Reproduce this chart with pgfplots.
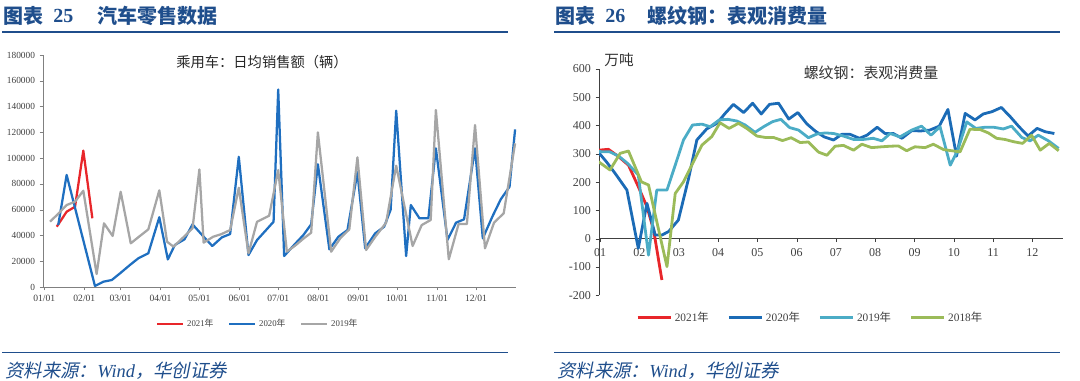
\documentclass[border=0pt]{standalone}
\usepackage{fontspec}
\setmainfont{Liberation Serif}
\newfontfamily\cjk{Noto Sans CJK SC}
\newfontfamily\cjkit[FakeSlant=0.2]{Noto Sans CJK SC}
\usepackage{pgfplots}
\pgfplotsset{compat=1.18}
\definecolor{navy}{HTML}{1F4E8C}
\definecolor{cred}{HTML}{E8262A}
\definecolor{cblue}{HTML}{1F6FC0}
\definecolor{cgray}{HTML}{A6A6A6}
\definecolor{dblue}{HTML}{1B6BB6}
\definecolor{lblue}{HTML}{4BACC6}
\definecolor{cgreen}{HTML}{9BBB59}
\definecolor{axgray}{HTML}{808080}
\definecolor{txt}{HTML}{404040}

\pgfplotstableread{
x y
9.6 46800
17.3 58400
23.8 62300
30.2 105800
37.2 53300
}\carA
\pgfplotstableread{
x y
10.8 48100
17.3 86900
39.2 800
45.7 4100
52.2 5400
58.6 10600
66.3 17100
72.8 22300
80.5 26200
89.0 54100
95.6 21400
101 32600
108.5 37000
114.7 48600
122.4 40000
130 31800
137.4 38500
143.8 41100
150.5 101000
158 24800
164.6 36400
171 43500
177.4 50600
181 153200
185.6 24050
194 33400
200.5 40350
206.5 48600
211.7 95200
220.6 29200
227.6 39000
234.6 44200
242.3 89000
248.3 30000
256 41600
263 46800
268 60000
272.3 136800
280 24050
283.6 63600
290.3 53300
297.2 53300
303 107600
312 36500
318.6 49900
324.8 52500
333.3 107600
339.3 37800
346.7 54600
353.2 68000
360 77800
364.3 122300
}\carB
\pgfplotstableread{
x y
4.4 50700
10.5 56500
17.3 63600
23.8 66200
30.2 74700
40.5 10100
46.2 49400
52.9 39600
59.1 73900
66.9 33900
74 39600
80.5 44700
89 75000
95 35100
100 31300
107 38000
114.7 45500
120 91200
123.3 34400
130.7 39000
137 41000
143.8 44200
150.5 77000
158 26100
164.6 50600
174 55300
181 90700
187.7 27400
194 32000
200.5 37500
206.5 42100
211.7 120000
222 27400
229 37800
236 44700
242.3 100600
249 28700
256 38800
264.5 49900
272.3 94100
285 31800
292 48000
299 52000
303 137300
313 21500
320.6 48900
327 48900
333.3 125700
341 30000
348 49900
355.5 57200
364.3 111500
}\carC

\pgfplotstableread{
x y
0.96 313
1.21 316
1.47 290
1.72 260
1.97 184
2.19 113
2.36 31
2.57 -146
}\stA
\pgfplotstableread{
x y
0.96 305
1.17 270
1.38 231
1.68 172
1.97 -34
2.19 125
2.4 13
2.57 13
2.74 25
2.99 66
3.25 213
3.46 349
3.71 388
3.97 408
4.18 443
4.39 475
4.65 446
4.88 479
5.1 441
5.31 475
5.54 479
5.8 423
6.03 446
6.26 406
6.47 381
6.70 360
6.94 349
7.15 369
7.36 369
7.6 355
7.79 366
8.05 394
8.25 372
8.46 372
8.68 355
8.93 382
9.16 381
9.39 384
9.63 398
9.85 457
10.07 292
10.29 443
10.54 420
10.75 441
10.97 449
11.21 464
11.44 431
11.66 396
11.89 363
12.12 390
12.33 378
12.56 372
}\stB
\pgfplotstableread{
x y
0.96 308
1.25 307
1.47 292
1.7 266
1.97 225
2.23 -58
2.44 172
2.7 172
2.91 260
3.12 349
3.35 402
3.59 405
3.8 396
4.03 420
4.25 422
4.48 416
4.69 402
4.94 376
5.16 396
5.39 414
5.6 422
5.82 393
6.05 384
6.3 357
6.51 370
6.73 374
6.94 372
7.19 363
7.45 351
7.7 351
7.95 355
8.17 346
8.38 372
8.63 360
8.93 384
9.18 398
9.42 366
9.65 396
9.91 260
10.1 313
10.33 413
10.56 390
10.79 394
11.02 394
11.26 388
11.47 398
11.73 358
11.94 346
12.15 366
12.41 346
12.67 319
}\stC
\pgfplotstableread{
x y
0.96 272
1.25 243
1.51 302
1.72 310
2.05 201
2.23 190
2.7 -99
2.91 160
3.12 201
3.33 260
3.59 331
3.84 361
4.05 410
4.28 390
4.52 408
4.73 390
4.99 363
5.2 358
5.41 358
5.64 347
5.86 357
6.09 340
6.3 342
6.56 306
6.77 295
6.98 327
7.19 330
7.45 313
7.66 334
7.91 322
8.17 325
8.38 327
8.59 328
8.8 311
9.01 325
9.27 322
9.48 334
9.74 315
9.95 311
10.16 307
10.41 387
10.67 386
10.88 374
11.09 355
11.3 351
11.52 343
11.75 337
11.98 366
12.2 313
12.43 337
12.67 311
}\stD

\begin{document}
\begin{tikzpicture}[x=0.75pt,y=0.75pt]
\path (0,0) rectangle (1080,381);
% ---- headers ----
\begin{scope}[every node/.style={anchor=west, inner sep=0, text=navy}]
\node[font=\cjk\bfseries\fontsize{15}{15}\selectfont] at (3,365) {图表};
\node[font=\bfseries\fontsize{15}{15}\selectfont] at (53,365) {25};
\node[font=\cjk\bfseries\fontsize{15}{15}\selectfont] at (97,365) {汽车零售数据};
\node[font=\cjk\bfseries\fontsize{15}{15}\selectfont] at (555,365) {图表};
\node[font=\bfseries\fontsize{15}{15}\selectfont] at (605,365) {26};
\node[font=\cjk\bfseries\fontsize{15}{15}\selectfont] at (647,365) {螺纹钢：表观消费量};
\node[font=\cjkit\fontsize{13.8}{14}\selectfont] at (5,10) {资料来源：{\itshape\rmfamily Wind}，华创证券};
\node[font=\cjkit\fontsize{13.8}{14}\selectfont] at (557,10) {资料来源：{\itshape\rmfamily Wind}，华创证券};
\end{scope}
\draw[navy, line width=1.5pt] (2,349) -- (508,349);
\draw[navy, line width=1.5pt] (554,349) -- (1060,349);
\draw[navy, line width=1.2pt] (2,28.3) -- (508,28.3);
\draw[navy, line width=1.2pt] (554,28.3) -- (1060,28.3);

% ---- left chart ----
\begin{axis}[
  at={(32.25pt,70.5pt)}, anchor=south west,
  scale only axis, width=354.75pt, height=174pt,
  xmin=-1, xmax=365, ymin=0, ymax=180000,
  axis lines=left, axis line style={-, draw=axgray},
  tick align=outside, major tick length=2.5pt,
  tick style={axgray},
  xtick={0,31,59,90,120,151,181,212,243,273,304,334},
  xticklabels={01/01,02/01,03/01,04/01,05/01,06/01,07/01,08/01,09/01,10/01,11/01,12/01},
  ytick={0,20000,...,180000},
  scaled y ticks=false,
  /pgf/number format/assume math mode=true,
  yticklabel style={/pgf/number format/fixed, /pgf/number format/1000 sep={}, font=\fontsize{7}{8}\selectfont, text=txt},
  xticklabel style={font=\fontsize{7.2}{8}\selectfont, text=txt},
  legend style={at={(0.455,-0.16)}, anchor=center, draw=none, fill=none,
    font=\fontsize{6.6}{8}\selectfont, text=txt,
    /tikz/every even column/.append style={column sep=9pt}},
  legend columns=3,
  legend image code/.code={\draw[#1] (0pt,0pt) -- (19.5pt,0pt);},
  every axis plot/.append style={line width=1.7pt, line join=round},
]
\addplot[cred] table {\carA};
\addlegendentry{2021{\cjk 年}}
\addplot[cblue] table {\carB};
\addlegendentry{2020{\cjk 年}}
\addplot[cgray] table {\carC};
\addlegendentry{2019{\cjk 年}}
\end{axis}
\node[font=\cjk\fontsize{10.7}{12}\selectfont, text=black!85] at (262,319) {乘用车：日均销售额（辆）};

% ---- right chart ----
\begin{axis}[
  at={(449.25pt,64.3pt)}, anchor=south west,
  scale only axis, width=348pt, height=169.7pt,
  xmin=0.97, xmax=12.78, ymin=-200, ymax=600,
  axis x line=middle, axis y line=left,
  axis line style={-, draw=txt},
  tick align=outside, major tick length=2.5pt,
  tick style={txt},
  hide obscured x ticks=false, hide obscured y ticks=false,
  xtick={1,...,12},
  xticklabels={01,02,03,04,05,06,07,08,09,10,11,12},
  ytick={-200,-100,...,600},
  /pgf/number format/assume math mode=true,
  yticklabel style={font=\fontsize{9}{10}\selectfont, text=txt},
  xticklabel style={font=\fontsize{9}{10}\selectfont, text=txt, yshift=-1pt},
  legend style={at={(0.456,-0.10)}, anchor=center, draw=none, fill=none,
    font=\fontsize{8.5}{10}\selectfont, text=txt,
    /tikz/every even column/.append style={column sep=12pt}},
  legend columns=4,
  legend image code/.code={\draw[#1] (0pt,0pt) -- (24.75pt,0pt);},
  every axis plot/.append style={line width=2.1pt, line join=round},
]
\addplot[cred] table {\stA};
\addlegendentry{2021{\cjk 年}}
\addplot[dblue] table {\stB};
\addlegendentry{2020{\cjk 年}}
\addplot[lblue] table {\stC};
\addlegendentry{2019{\cjk 年}}
\addplot[cgreen] table {\stD};
\addlegendentry{2018{\cjk 年}}
\end{axis}
\node[font=\cjk\fontsize{11.2}{12}\selectfont, text=black!80] at (871,308) {螺纹钢：表观消费量};
\node[font=\cjk\fontsize{11}{12}\selectfont, text=black!80] at (619,321) {万吨};
\end{tikzpicture}
\end{document}
